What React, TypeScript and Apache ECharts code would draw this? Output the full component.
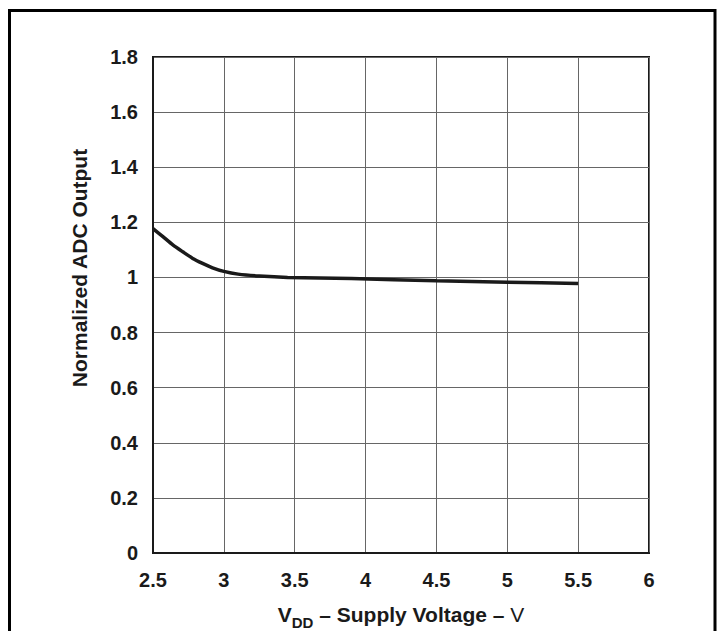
import React, { useEffect, useRef } from "react";
import * as echarts from "echarts";

const voltage = [2.5, 2.57, 2.64, 2.71, 2.78, 2.85, 2.92, 3.0, 3.1, 3.25, 3.45, 3.9, 4.5, 5.0, 5.5];
const adcOutput = [1.177, 1.148, 1.118, 1.093, 1.069, 1.051, 1.035, 1.022, 1.012, 1.005, 1.0, 0.996, 0.988, 0.983, 0.978];
const xTicks = { min: 2.5, max: 6, interval: 0.5 };
const yTicks = { min: 0, max: 1.8, interval: 0.2 };
const xTitle = ["V", "DD", " – Supply Voltage – ", "V"];
const yTitle = "Normalized ADC Output";

const FONT = "'Liberation Sans', Arial, sans-serif";

export default function App() {
  const ref = useRef<HTMLDivElement>(null);
  useEffect(() => {
    const chart = echarts.init(ref.current!, null, { renderer: "svg" });
    chart.setOption({
      animation: false,
      backgroundColor: "#fff",
      grid: {
        left: 153,
        top: 57,
        right: 68,
        bottom: 78,
        outerBoundsMode: "none",
        containLabel: false,
        show: true,
        borderColor: "#1a1a1a",
        borderWidth: 2,
      },
      xAxis: {
        type: "value",
        min: xTicks.min,
        max: xTicks.max,
        interval: xTicks.interval,
        axisLine: { show: true, lineStyle: { color: "#1a1a1a", width: 2 } },
        axisTick: { show: false },
        splitLine: { show: true, lineStyle: { color: "#666", width: 1 } },
        axisLabel: {
          margin: 17,
          color: "#1a1a1a",
          fontFamily: FONT,
          fontWeight: "bold",
          fontSize: 20,
          formatter: (v: number) => String(v),
        },
        name: `{b|${xTitle[0]}}{s|${xTitle[1]}}{b|${xTitle[2]}}{n|${xTitle[3]}}`,
        nameLocation: "middle",
        nameGap: 48,
        nameTextStyle: {
          rich: {
            b: { fontFamily: FONT, fontWeight: "bold", fontSize: 21, color: "#1a1a1a", verticalAlign: "bottom", lineHeight: 24 },
            s: { fontFamily: FONT, fontWeight: "bold", fontSize: 15, color: "#1a1a1a", verticalAlign: "bottom", lineHeight: 24, padding: [0, 0, -5, 0] },
            n: { fontFamily: FONT, fontWeight: "normal", fontSize: 21, color: "#1a1a1a", verticalAlign: "bottom", lineHeight: 24 },
          },
        },
      },
      yAxis: {
        type: "value",
        min: yTicks.min,
        max: yTicks.max,
        interval: yTicks.interval,
        axisLine: { show: true, lineStyle: { color: "#1a1a1a", width: 2 } },
        axisTick: { show: false },
        splitLine: { show: true, lineStyle: { color: "#666", width: 1 } },
        axisLabel: {
          margin: 15,
          color: "#1a1a1a",
          fontFamily: FONT,
          fontWeight: "bold",
          fontSize: 20,
          padding: [4, 0, 0, 0],
          formatter: (v: number) => String(Math.round(v * 10) / 10),
        },
      },
      graphic: [
        {
          type: "rect",
          shape: { x: 9.5, y: 10.5, width: 705.5, height: 640 },
          style: { fill: "none", stroke: "#000", lineWidth: 3 },
          silent: true,
        },
        {
          type: "text",
          x: 79,
          y: 268,
          rotation: Math.PI / 2,
          style: {
            text: yTitle,
            fontFamily: FONT,
            fontWeight: "bold",
            fontSize: 21,
            fill: "#1a1a1a",
            align: "center",
            verticalAlign: "middle",
          },
        },
      ],
      series: [
        {
          type: "line",
          data: voltage.map((v, i) => [v, adcOutput[i]]),
          showSymbol: false,
          smooth: 0.2,
          lineStyle: { color: "#1a1a1a", width: 3.5 },
        },
      ],
    });
    return () => chart.dispose();
  }, []);
  return (
    <div
      ref={ref}
      style={{ position: "fixed", left: 0, top: 0, width: 717, height: 631 }}
    />
  );
}
